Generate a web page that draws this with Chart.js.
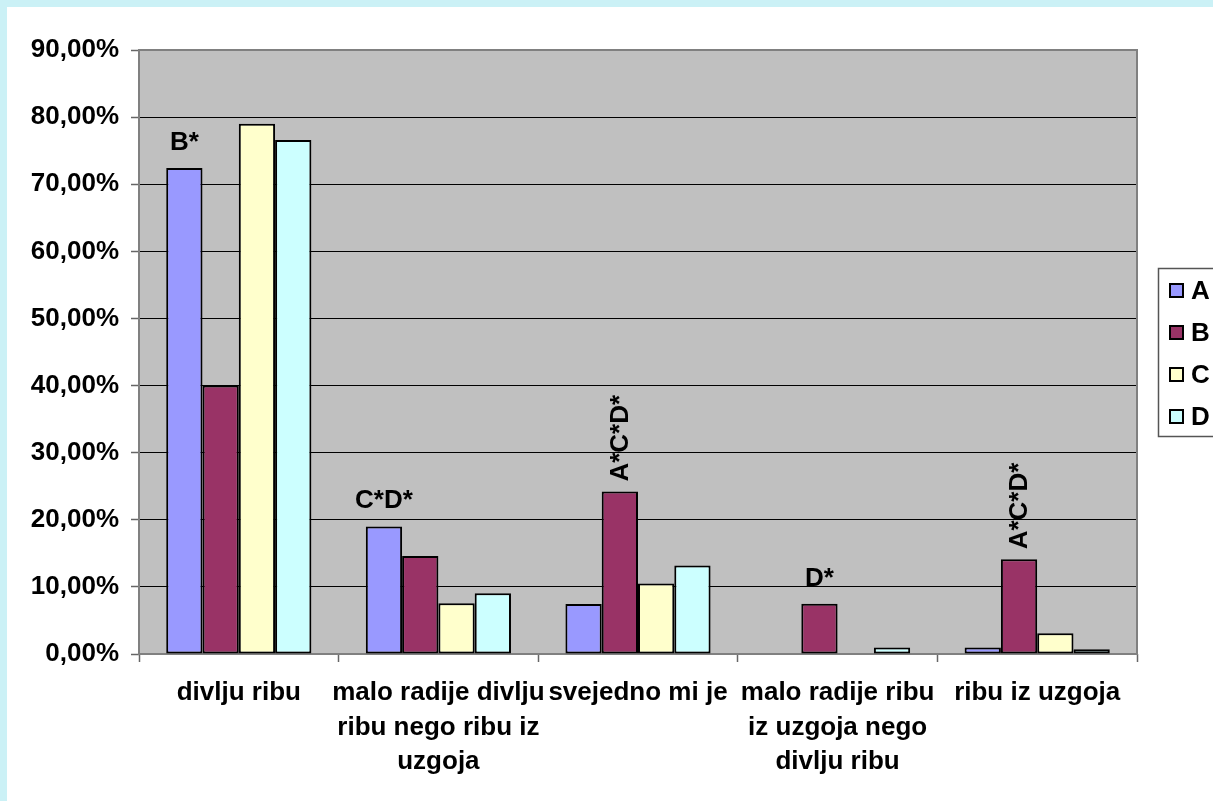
<!DOCTYPE html>
<html>
<head>
<meta charset="utf-8">
<style>
  html, body { margin: 0; padding: 0; background: #fff; }
  #wrap { position: absolute; left: 0; top: 0; width: 1213px; height: 801px; }
</style>
<script src="https://cdn.jsdelivr.net/npm/chart.js@4.4.1/dist/chart.umd.min.js"></script>
</head>
<body>
<div id="wrap"><canvas id="chart" width="1213" height="801"></canvas></div>
<script>
// categories (already broken into lines as in the original)
const categories = [
  ['divlju ribu'],
  ['malo radije divlju', 'ribu nego ribu iz', 'uzgoja'],
  ['svejedno mi je'],
  ['malo radije ribu', 'iz uzgoja nego', 'divlju ribu'],
  ['ribu iz uzgoja'],
];

const seriesNames = ['A', 'B', 'C', 'D'];
const seriesColors = ['#9999FF', '#993366', '#FFFFCC', '#CCFFFF'];

// percentages
const valuesA = [72.4, 19.0, 7.45, 0, 0.95];
const valuesB = [40.0, 14.6, 24.2, 7.5, 14.1];
const valuesC = [79.0, 7.55, 10.5, 0, 3.1];
const valuesD = [76.6, 9.05, 13.2, 0.95, 0.7];

const yTicks = ['0,00%', '10,00%', '20,00%', '30,00%', '40,00%', '50,00%', '60,00%', '70,00%', '80,00%', '90,00%'];

// significance marks: category index, series index, text, vertical?
const marks = [
  { cat: 0, ds: 0, text: 'B*', vertical: false },
  { cat: 1, ds: 0, text: 'C*D*', vertical: false },
  { cat: 2, ds: 1, text: 'A*C*D*', vertical: true },
  { cat: 3, ds: 1, text: 'D*', vertical: false },
  { cat: 4, ds: 1, text: 'A*C*D*', vertical: true },
];

const FAMILY = '"Liberation Sans", Arial, sans-serif';
const FONT = 'bold 26px ' + FAMILY;

const backdrop = {
  id: 'backdrop',
  beforeDraw(chart) {
    const { ctx, chartArea: a } = chart;
    ctx.save();
    ctx.fillStyle = '#cbf1f6';
    ctx.fillRect(0, 0, chart.width, chart.height);
    ctx.fillStyle = '#ffffff';
    ctx.fillRect(7, 7, chart.width - 7, chart.height - 7);
    ctx.fillStyle = '#c0c0c0';
    ctx.fillRect(a.left, a.top, a.right - a.left, a.bottom - a.top);
    ctx.restore();
  },
  beforeDatasetsDraw(chart) {
    const { ctx, chartArea: a } = chart;
    ctx.save();
    ctx.strokeStyle = '#808080';
    ctx.lineWidth = 2;
    ctx.strokeRect(a.left, a.top, a.right - a.left, a.bottom - a.top);
    ctx.restore();
  },
};

const markLabels = {
  id: 'markLabels',
  afterDatasetsDraw(chart) {
    const { ctx } = chart;
    ctx.save();
    ctx.font = FONT;
    ctx.fillStyle = '#000';
    marks.forEach((m) => {
      const bar = chart.getDatasetMeta(m.ds).data[m.cat];
      if (!bar) return;
      if (m.vertical) {
        ctx.save();
        ctx.translate(bar.x + 1, bar.y - 10);
        ctx.rotate(-Math.PI / 2);
        ctx.textAlign = 'left';
        ctx.textBaseline = 'middle';
        ctx.fillText(m.text, 0, 0);
        ctx.restore();
      } else {
        ctx.textAlign = 'center';
        ctx.textBaseline = 'alphabetic';
        ctx.fillText(m.text, bar.x, bar.y - 18);
      }
    });
    ctx.restore();
  },
};

const boxLegend = {
  id: 'boxLegend',
  afterDraw(chart) {
    const { ctx } = chart;
    ctx.save();
    ctx.strokeStyle = '#555';
    ctx.lineWidth = 1.5;
    ctx.strokeRect(1158.5, 268.5, 80, 168);
    ctx.font = FONT;
    ctx.textBaseline = 'middle';
    ctx.textAlign = 'left';
    seriesNames.forEach((name, i) => {
      const cy = 291 + i * 42;
      ctx.fillStyle = seriesColors[i];
      ctx.fillRect(1170, cy - 7, 13, 13);
      ctx.strokeStyle = '#000';
      ctx.lineWidth = 2;
      ctx.strokeRect(1170, cy - 7, 13, 13);
      ctx.fillStyle = '#000';
      ctx.fillText(name, 1191, cy + 1);
    });
    ctx.restore();
  },
};

const seriesValues = [valuesA, valuesB, valuesC, valuesD];

new Chart(document.getElementById('chart'), {
  type: 'bar',
  data: {
    labels: categories,
    datasets: seriesNames.map((name, i) => ({
      label: name,
      data: seriesValues[i],
      backgroundColor: seriesColors[i],
      borderColor: '#000',
      borderWidth: 2,
      borderSkipped: false,
      categoryPercentage: 4 / 5.5,
      barPercentage: 1,
    })),
  },
  options: {
    responsive: false,
    animation: false,
    layout: { padding: { top: 50, right: 76, left: 0, bottom: 0 } },
    plugins: {
      legend: { display: false },
      tooltip: { enabled: false },
    },
    scales: {
      x: {
        offset: true,
        border: { display: false },
        grid: {
          offset: true,
          drawOnChartArea: false,
          drawTicks: true,
          tickLength: 8,
          tickColor: '#666',
          tickWidth: 1.5,
        },
        ticks: {
          color: '#000',
          font: { family: FAMILY, size: 26, weight: 'bold', lineHeight: '34.5px' },
          padding: 14,
          maxRotation: 0,
          autoSkip: false,
        },
        afterFit(scale) { scale.height = 147; },
      },
      y: {
        min: 0,
        max: 90,
        border: { display: false },
        grid: {
          color: '#000',
          lineWidth: 1,
          tickLength: 8,
          tickColor: '#666',
          tickWidth: 1.5,
        },
        ticks: {
          stepSize: 10,
          color: '#000',
          padding: 12,
          font: { family: FAMILY, size: 26, weight: 'bold' },
          callback: (v, i) => yTicks[i],
        },
        afterFit(scale) { scale.width = 139; },
      },
    },
  },
  plugins: [backdrop, markLabels, boxLegend],
});
</script>
</body>
</html>
